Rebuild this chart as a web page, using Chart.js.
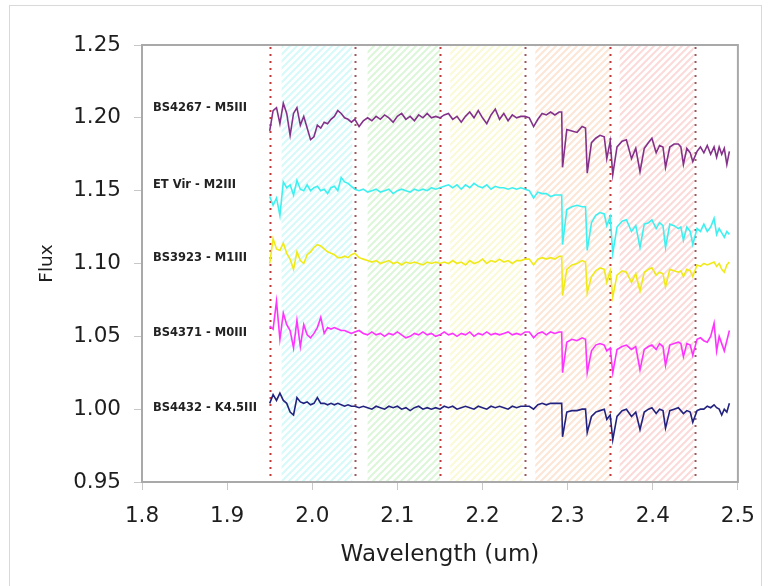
<!DOCTYPE html>
<html>
<head>
<meta charset="utf-8">
<script src="https://cdn.jsdelivr.net/npm/chart.js@4.4.1/dist/chart.umd.min.js"></script>
<style>
  html, body { margin: 0; padding: 0; background: #fff; }
  #wrap { position: relative; width: 769px; height: 586px; overflow: hidden; }
  #frame { position: absolute; left: 9px; top: 5px; width: 751px; height: 620px; border: 1px solid #d9d9d9; }
  #spectra { position: absolute; left: 0; top: 0; }
</style>
</head>
<body>
<div id="wrap">
  <div id="frame"></div>
  <canvas id="spectra" width="769" height="586"></canvas>
</div>
<script>
// wavelength grid (um), shared by all five spectra
const wavelengths = [
  1.950, 1.954, 1.958, 1.962, 1.966, 1.970, 1.974, 1.978, 1.982, 1.986,
  1.990, 1.994, 1.998, 2.002, 2.006, 2.010, 2.014, 2.018, 2.022, 2.026,
  2.030, 2.034, 2.038, 2.042, 2.046, 2.050,
  2.055, 2.060, 2.065, 2.070, 2.075, 2.080, 2.085, 2.090, 2.095, 2.100,
  2.105, 2.110, 2.115, 2.120, 2.125, 2.130, 2.135, 2.140, 2.145, 2.150,
  2.155, 2.160, 2.165, 2.170, 2.175, 2.180, 2.185, 2.190, 2.195, 2.200,
  2.205, 2.210, 2.215, 2.220, 2.225, 2.230, 2.235, 2.240, 2.245, 2.250,
  2.255, 2.260, 2.265, 2.270, 2.275, 2.280, 2.285, 2.290,
  2.293, 2.294, 2.299, 2.305, 2.311, 2.317, 2.321, 2.323, 2.328, 2.333,
  2.338, 2.343, 2.346, 2.350, 2.353, 2.358, 2.364, 2.369, 2.375, 2.380,
  2.385, 2.390, 2.395, 2.399, 2.404, 2.408, 2.412, 2.415, 2.420, 2.425,
  2.430, 2.433, 2.436, 2.440, 2.444, 2.447, 2.452, 2.456, 2.460, 2.464,
  2.468, 2.472, 2.475, 2.478, 2.481, 2.484, 2.487, 2.490
];

const fluxBS4267 = [
  1.191, 1.205, 1.207, 1.196, 1.210, 1.203, 1.188, 1.203, 1.207, 1.195,
  1.201, 1.193, 1.185, 1.187, 1.195, 1.193, 1.197, 1.196, 1.199, 1.201,
  1.205, 1.203, 1.200, 1.199, 1.197, 1.199,
  1.194, 1.198, 1.200, 1.198, 1.201, 1.199, 1.202, 1.200, 1.197, 1.201,
  1.203, 1.199, 1.201, 1.198, 1.202, 1.200, 1.203, 1.200, 1.201, 1.200,
  1.202, 1.203, 1.199, 1.201, 1.197, 1.201, 1.204, 1.200, 1.205, 1.200,
  1.196, 1.202, 1.206, 1.199, 1.203, 1.198, 1.202, 1.200, 1.201, 1.201,
  1.200, 1.194, 1.199, 1.203, 1.202, 1.204, 1.202, 1.204,
  1.204, 1.166, 1.192, 1.191, 1.190, 1.194, 1.193, 1.162, 1.183, 1.186,
  1.188, 1.187, 1.172, 1.184, 1.161, 1.180, 1.184, 1.185, 1.172, 1.179,
  1.163, 1.179, 1.183, 1.186, 1.176, 1.181, 1.180, 1.166, 1.180, 1.182,
  1.182, 1.180, 1.168, 1.179, 1.176, 1.170, 1.177, 1.180, 1.176, 1.181,
  1.175, 1.180, 1.173, 1.180, 1.175, 1.179, 1.168, 1.177
];

const fluxETVir = [
  1.146, 1.140, 1.145, 1.133, 1.156, 1.152, 1.154, 1.147, 1.157, 1.151,
  1.150, 1.154, 1.150, 1.152, 1.153, 1.150, 1.151, 1.148, 1.152, 1.153,
  1.150, 1.159, 1.156, 1.155, 1.153, 1.151,
  1.150, 1.151, 1.149, 1.150, 1.151, 1.149, 1.150, 1.151, 1.148, 1.150,
  1.151, 1.150, 1.149, 1.151, 1.150, 1.151, 1.150, 1.152, 1.151, 1.152,
  1.153, 1.154, 1.152, 1.154, 1.151, 1.154, 1.152, 1.155, 1.153, 1.152,
  1.154, 1.151, 1.153, 1.152, 1.152, 1.151, 1.152, 1.151, 1.152, 1.151,
  1.150, 1.145, 1.149, 1.148, 1.148, 1.146, 1.147, 1.147,
  1.147, 1.113, 1.137, 1.139, 1.140, 1.139, 1.139, 1.109, 1.128, 1.133,
  1.135, 1.134, 1.126, 1.132, 1.107, 1.125, 1.129, 1.130, 1.122, 1.126,
  1.111, 1.127, 1.128, 1.130, 1.124, 1.128, 1.126, 1.111, 1.127, 1.126,
  1.124, 1.125, 1.116, 1.125, 1.122, 1.113, 1.124, 1.122, 1.127, 1.122,
  1.125, 1.131, 1.120, 1.124, 1.121, 1.118, 1.122, 1.120
];

const fluxBS3923 = [
  1.100, 1.117, 1.110, 1.109, 1.114, 1.107, 1.103, 1.096, 1.108, 1.102,
  1.100, 1.106, 1.108, 1.111, 1.113, 1.112, 1.110, 1.108, 1.107, 1.106,
  1.104, 1.104, 1.105, 1.104, 1.106, 1.107,
  1.104, 1.103, 1.102, 1.101, 1.102, 1.100, 1.101, 1.102, 1.100, 1.101,
  1.099, 1.101, 1.100, 1.101, 1.100, 1.099, 1.101, 1.100, 1.101, 1.100,
  1.101, 1.100, 1.102, 1.100, 1.101, 1.099, 1.102, 1.100, 1.101, 1.103,
  1.100, 1.102, 1.101, 1.103, 1.101, 1.102, 1.100, 1.102, 1.102, 1.103,
  1.103, 1.099, 1.103, 1.104, 1.103, 1.104, 1.103, 1.105,
  1.105, 1.078, 1.096, 1.099, 1.100, 1.102, 1.101, 1.080, 1.091, 1.095,
  1.097, 1.096, 1.087, 1.095, 1.077, 1.092, 1.095, 1.094, 1.087, 1.093,
  1.081, 1.094, 1.096, 1.097, 1.092, 1.094, 1.093, 1.084, 1.096, 1.095,
  1.094, 1.095, 1.091, 1.096, 1.095, 1.091, 1.099, 1.098, 1.100, 1.099,
  1.100, 1.101, 1.098, 1.100, 1.096, 1.094, 1.099, 1.101
];

const fluxBS4371 = [
  1.057, 1.055, 1.074, 1.048, 1.066, 1.058, 1.054, 1.042, 1.061, 1.043,
  1.058, 1.051, 1.049, 1.052, 1.056, 1.063, 1.052, 1.056, 1.055, 1.056,
  1.055, 1.054, 1.054, 1.053, 1.052, 1.053,
  1.054, 1.052, 1.051, 1.053, 1.051, 1.052, 1.050, 1.052, 1.051, 1.053,
  1.051, 1.049, 1.050, 1.052, 1.051, 1.053, 1.051, 1.052, 1.050, 1.051,
  1.053, 1.051, 1.052, 1.050, 1.052, 1.051, 1.053, 1.050, 1.052, 1.051,
  1.053, 1.051, 1.052, 1.051, 1.052, 1.053, 1.051, 1.052, 1.051, 1.053,
  1.053, 1.049, 1.052, 1.053, 1.051, 1.053, 1.052, 1.053,
  1.053, 1.025, 1.046, 1.048, 1.047, 1.049, 1.048, 1.025, 1.040, 1.044,
  1.045, 1.044, 1.040, 1.042, 1.025, 1.041, 1.043, 1.044, 1.041, 1.043,
  1.027, 1.041, 1.043, 1.044, 1.041, 1.045, 1.043, 1.030, 1.044, 1.045,
  1.046, 1.045, 1.036, 1.045, 1.044, 1.037, 1.048, 1.049, 1.047, 1.046,
  1.050, 1.059, 1.040, 1.050, 1.045, 1.040, 1.047, 1.054
];

const fluxBS4432 = [
  1.004, 1.010, 1.006, 1.011, 1.006, 1.004, 0.998, 0.996, 1.008, 1.005,
  1.004, 1.005, 1.003, 1.004, 1.008, 1.004, 1.004, 1.003, 1.004, 1.003,
  1.004, 1.003, 1.002, 1.003, 1.002, 1.002,
  1.001, 1.002, 1.001, 1.000, 1.002, 1.001, 1.000, 1.002, 1.001, 1.002,
  1.000, 1.001, 0.999, 1.001, 1.002, 1.000, 1.001, 1.000, 1.001, 1.000,
  1.002, 1.001, 1.002, 1.000, 1.001, 1.002, 1.001, 1.000, 1.002, 1.001,
  1.000, 1.002, 1.001, 1.002, 1.001, 1.000, 1.002, 1.001, 1.002, 1.002,
  1.002, 1.000, 1.003, 1.004, 1.003, 1.004, 1.004, 1.004,
  1.004, 0.981, 0.998, 0.999, 0.999, 1.000, 1.000, 0.984, 0.995, 0.998,
  0.999, 1.000, 0.993, 0.996, 0.979, 0.995, 0.999, 1.000, 0.995, 0.998,
  0.986, 0.998, 1.000, 1.001, 0.997, 1.000, 0.999, 0.987, 0.999, 1.000,
  1.001, 0.999, 0.997, 0.999, 0.998, 0.991, 0.999, 1.000, 1.000, 1.002,
  1.001, 1.003, 1.001, 1.000, 0.996, 1.000, 0.998, 1.004
];

const starNames = ['BS4267 - M5III', 'ET Vir - M2III', 'BS3923 - M1III', 'BS4371 - M0III', 'BS4432 - K4.5III'];
const starLabelFlux = [1.2065, 1.154, 1.104, 1.052, 1.001];
const starColors = ['#84318a', '#3ff0f0', '#f0ea1a', '#ff33ff', '#23237f'];

// hatched filter bands [from, to] in um
const bandStart = [1.964, 2.065, 2.162, 2.262, 2.361];
const bandEnd = [2.047, 2.150, 2.247, 2.350, 2.448];
const bandColors = ['#d6fafa', '#dcf6d9', '#fbfad6', '#fde6d6', '#fcdada'];

// dotted markers
const markerAt = [1.95, 2.05, 2.15, 2.25, 2.35, 2.45];
const markerColors = ['#c0393b', '#9a5a5a', '#c0393b', '#9a5a5a', '#c0393b', '#9a5a5a'];

const xTicks = [1.8, 2.5, 0.1];
const yTicks = [0.95, 1.25, 0.05];

function hatch(color) {
    const c = document.createElement('canvas');
    c.width = 7;
    c.height = 7;
    const g = c.getContext('2d');
    g.strokeStyle = color;
    g.lineWidth = 2;
    g.beginPath();
    g.moveTo(-1, 8); g.lineTo(8, -1);
    g.moveTo(-4, 4); g.lineTo(4, -4);
    g.moveTo(3, 11); g.lineTo(11, 3);
    g.stroke();
    return g.createPattern(c, 'repeat');
}

const backdrop = {
    id: 'backdrop',
    beforeDatasetsDraw(chart) {
        const { ctx, chartArea, scales } = chart;
        const x = scales.x;
        ctx.save();
        bandStart.forEach((b, i) => {
            const x1 = x.getPixelForValue(b);
            const x2 = x.getPixelForValue(bandEnd[i]);
            ctx.fillStyle = hatch(bandColors[i]);
            ctx.fillRect(x1, chartArea.top + 1, x2 - x1, chartArea.bottom - chartArea.top - 2);
        });
        ctx.lineWidth = 2;
        ctx.setLineDash([2, 5]);
        markerAt.forEach((m, i) => {
            const px = Math.round(x.getPixelForValue(m)) + 0.5;
            ctx.strokeStyle = markerColors[i];
            ctx.beginPath();
            ctx.moveTo(px, chartArea.top + 2);
            ctx.lineTo(px, chartArea.bottom);
            ctx.stroke();
        });
        ctx.restore();
    },
    afterDatasetsDraw(chart) {
        const { ctx, chartArea, scales } = chart;
        ctx.save();
        ctx.font = 'bold 11.5px "DejaVu Sans", Verdana, sans-serif';
        ctx.fillStyle = '#222';
        ctx.textBaseline = 'middle';
        starNames.forEach((name, i) => {
            ctx.fillText(name, chartArea.left + 11, scales.y.getPixelForValue(starLabelFlux[i]));
        });
        ctx.strokeStyle = '#a9a9a9';
        ctx.lineWidth = 2;
        ctx.strokeRect(chartArea.left, chartArea.top, chartArea.right - chartArea.left, chartArea.bottom - chartArea.top);
        ctx.restore();
    }
};

const tickFont = { family: 'DejaVu Sans', size: 21.5 };

new Chart(document.getElementById('spectra').getContext('2d'), {
    type: 'line',
    data: {
        labels: wavelengths,
        datasets: [fluxBS4267, fluxETVir, fluxBS3923, fluxBS4371, fluxBS4432].map((flux, i) => ({
            label: starNames[i],
            data: flux.map((f, j) => ({ x: wavelengths[j], y: f })),
            borderColor: starColors[i],
            borderWidth: 1.6,
            pointRadius: 0,
            tension: 0,
            fill: false
        }))
    },
    options: {
        responsive: false,
        animation: false,
        layout: { padding: { top: 45, right: 27, left: 0, bottom: 0 } },
        plugins: { legend: { display: false }, tooltip: { enabled: false } },
        scales: {
            x: {
                type: 'linear',
                min: xTicks[0],
                max: xTicks[1],
                afterFit: s => { s.height = 104; },
                ticks: {
                    stepSize: xTicks[2],
                    padding: 14,
                    color: '#1e1e1e',
                    font: tickFont,
                    callback: v => v.toFixed(1)
                },
                grid: { drawOnChartArea: false, tickLength: 8, color: '#c8c8c8' },
                border: { color: '#a9a9a9', width: 2 },
                title: {
                    display: true,
                    text: 'Wavelength (um)',
                    color: '#1e1e1e',
                    font: { family: 'DejaVu Sans', size: 23 },
                    padding: { top: 0, bottom: 17 }
                }
            },
            y: {
                min: yTicks[0],
                max: yTicks[1],
                afterFit: s => { s.width = 142; },
                ticks: {
                    stepSize: yTicks[2],
                    padding: 13,
                    color: '#1e1e1e',
                    font: tickFont,
                    callback: v => v.toFixed(2)
                },
                grid: { drawOnChartArea: false, tickLength: 8, color: '#c8c8c8' },
                border: { color: '#a9a9a9', width: 2 },
                title: {
                    display: true,
                    text: 'Flux',
                    color: '#1e1e1e',
                    font: { family: 'DejaVu Sans', size: 18.5 },
                    padding: { top: 36, bottom: 0 }
                }
            }
        }
    },
    plugins: [backdrop]
});
</script>
</body>
</html>
